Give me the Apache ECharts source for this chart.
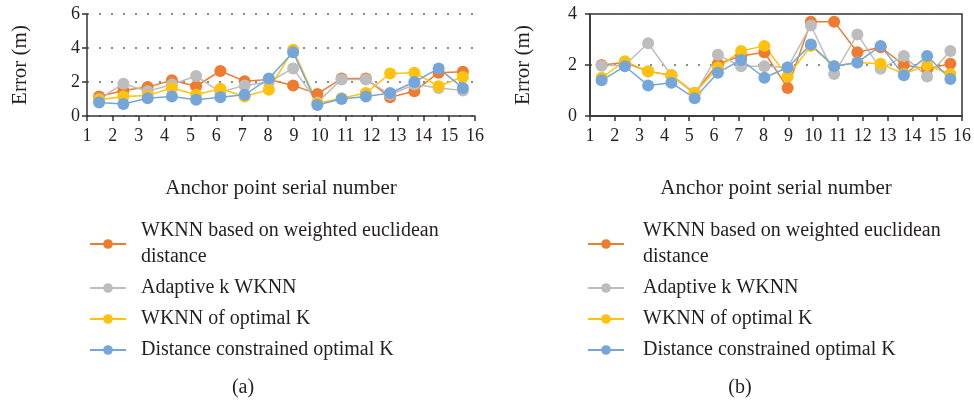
<!DOCTYPE html>
<html>
<head>
<meta charset="utf-8">
<script src="https://cdn.jsdelivr.net/npm/echarts@6/dist/echarts.min.js"></script>
<style>
  html, body { margin: 0; background: #fff; }
  #main { width: 974px; height: 402px; }
</style>
</head>
<body>
<div id="main"></div>
<script>
// anchor points (data categories) and the tick labels of the axis
const anchorPoints = ['1', '2', '3', '4', '5', '6', '7', '8', '9', '10', '11', '12', '13', '14', '15', '16']
const tickLabels = ['1', '2', '3', '4', '5', '6', '7', '8', '9', '10', '11', '12', '13', '14', '15', '16']

const seriesNames = [
  'WKNN based on weighted euclidean distance',
  'Adaptive k WKNN',
  'WKNN of optimal K',
  'Distance constrained optimal K'
]
const colors = ['#EE7B30', '#BDBDBD', '#FFC20E', '#75A6DA']

// (a)
const weightedA = [1.15, 1.5, 1.7, 2.1, 1.75, 2.65, 2.05, 2.15, 1.8, 1.3, 2.2, 2.2, 1.1, 1.45, 2.55, 2.6]
const adaptiveA = [1.0, 1.9, 1.45, 1.85, 2.35, 1.4, 1.8, 2.0, 2.8, 0.8, 2.15, 2.15, 1.25, 1.85, 1.65, 1.5]
const optimalA = [0.95, 1.15, 1.2, 1.65, 1.25, 1.6, 1.15, 1.55, 3.9, 0.75, 1.05, 1.35, 2.5, 2.55, 1.75, 2.3]
const constrainedA = [0.8, 0.7, 1.05, 1.15, 0.95, 1.1, 1.25, 2.2, 3.75, 0.65, 1.0, 1.15, 1.35, 2.0, 2.8, 1.65]

// (b)
const weightedB = [2.0, 2.1, 1.75, 1.6, 0.9, 2.05, 2.35, 2.5, 1.1, 3.7, 3.7, 2.5, 2.7, 2.0, 1.85, 2.05]
const adaptiveB = [1.97, 2.0, 2.85, 1.6, 0.85, 2.4, 1.95, 1.95, 1.9, 3.55, 1.65, 3.2, 1.85, 2.35, 1.55, 2.55]
const optimalB = [1.5, 2.15, 1.75, 1.6, 0.9, 1.9, 2.55, 2.75, 1.55, 2.75, 1.95, 2.1, 2.05, 1.65, 2.0, 1.65]
const constrainedB = [1.4, 1.95, 1.2, 1.3, 0.7, 1.7, 2.2, 1.5, 1.9, 2.8, 1.95, 2.1, 2.75, 1.6, 2.35, 1.45]

const font = 'Liberation Serif'
const textColor = '#231F20'
const axisColor = '#333'

const myChart = echarts.init(document.getElementById('main'))

function xAxes (gridIndex) {
  return [
    {
      type: 'category',
      gridIndex: gridIndex,
      data: anchorPoints,
      boundaryGap: true,
      show: false
    },
    {
      type: 'category',
      gridIndex: gridIndex,
      position: 'bottom',
      data: tickLabels,
      boundaryGap: false,
      axisLine: { lineStyle: { color: axisColor, width: 1.5 } },
      axisTick: { show: true, interval: 0, length: 5, lineStyle: { color: axisColor, width: 1.5 } },
      axisLabel: { interval: 0, margin: 11, fontFamily: font, fontSize: 18, color: textColor },
      name: 'Anchor point serial number',
      nameLocation: 'middle',
      nameGap: 62,
      nameTextStyle: { fontFamily: font, fontSize: 21, color: textColor }
    }
  ]
}

function yAxis (gridIndex, max, margin) {
  return {
    type: 'value',
    gridIndex: gridIndex,
    min: 0,
    max: max,
    interval: 2,
    axisLine: { show: true, lineStyle: { color: axisColor, width: 1.5 } },
    axisTick: { show: true, length: 5, lineStyle: { color: axisColor, width: 1.5 } },
    axisLabel: { margin: margin, fontFamily: font, fontSize: 18, color: textColor },
    splitLine: { lineStyle: { color: '#666', width: 1.5, type: [2, 10] } },
    name: 'Error (m)',
    nameLocation: 'middle',
    nameGap: 56,
    nameTextStyle: { fontFamily: font, fontSize: 21, color: textColor }
  }
}

function lines (gridIndex, datas) {
  return datas.map((d, i) => {
    return {
      name: seriesNames[i],
      type: 'line',
      xAxisIndex: gridIndex * 2,
      yAxisIndex: gridIndex,
      data: d,
      symbol: 'circle',
      symbolSize: 12,
      lineStyle: { width: 1.5, color: colors[i] },
      itemStyle: { color: colors[i] },
      animation: false
    }
  })
}

function legend (left, gap) {
  return {
    orient: 'vertical',
    left: left,
    top: 213,
    itemWidth: 36,
    itemHeight: 12,
    itemGap: 5,
    selectedMode: false,
    data: seriesNames,
    formatter: name => name === seriesNames[0] ? 'WKNN based on weighted euclidean\ndistance' : name,
    textStyle: { fontFamily: font, fontSize: 20, lineHeight: 26, color: textColor, padding: [0, 0, 0, gap] }
  }
}

const option = {
  color: colors,
  grid: [
    { left: 87, top: 14, width: 388, height: 102 },
    { left: 590, top: 14, width: 373, height: 102, show: true, borderColor: axisColor, borderWidth: 1.5 }
  ],
  xAxis: xAxes(0).concat(xAxes(1)),
  yAxis: [yAxis(0, 6, 7), yAxis(1, 4, 13)],
  legend: [legend(84, 10), legend(582, 14)],
  series: lines(0, [weightedA, adaptiveA, optimalA, constrainedA])
    .concat(lines(1, [weightedB, adaptiveB, optimalB, constrainedB])),
  graphic: [
    { type: 'text', x: 243, y: 388, style: { text: '(a)', align: 'center', verticalAlign: 'middle', font: '20px "Liberation Serif"', fill: textColor } },
    { type: 'text', x: 740, y: 388, style: { text: '(b)', align: 'center', verticalAlign: 'middle', font: '20px "Liberation Serif"', fill: textColor } }
  ]
}
myChart.setOption(option)
</script>
</body>
</html>
